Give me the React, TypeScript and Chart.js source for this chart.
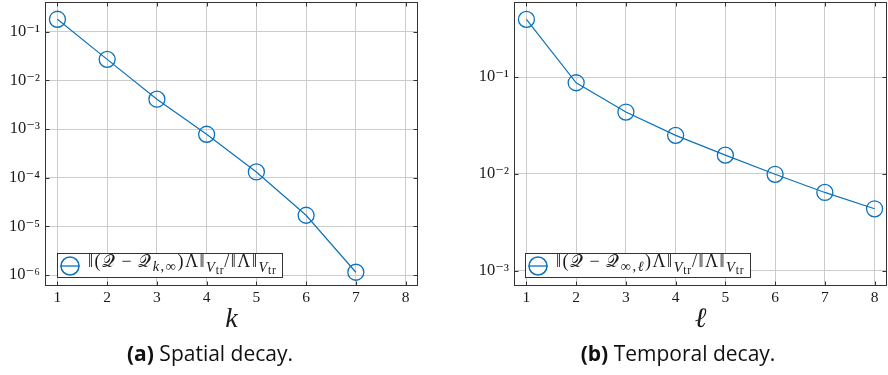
import React, { useEffect, useRef } from "react";
import { Chart, registerables } from "chart.js";

Chart.register(...registerables);

// ---- data ----
const spatialK = [1, 2, 3, 4, 5, 6, 7];
const spatialErr = [0.18, 0.027, 0.0041, 7.8e-4, 1.31e-4, 1.69e-5, 1.14e-6];
const temporalL = [1, 2, 3, 4, 5, 6, 7, 8];
const temporalErr = [0.394, 0.0873, 0.0435, 0.025, 0.0156, 0.0099, 0.00643, 0.00436];
const xTicks = [1, 2, 3, 4, 5, 6, 7, 8];
const spatialYTicks = [1e-6, 1e-5, 1e-4, 1e-3, 1e-2, 1e-1];
const temporalYTicks = [1e-3, 1e-2, 1e-1];

const BLUE = "#0b72bd";
const FRAME = "#333333";
const GRID = "#cccccc";
const TEXT = "#1a1a1a";
const SERIF = "'Liberation Serif', 'DejaVu Serif', serif";

const SUP: Record<string, string> = {
  "-": "⁻", "0": "⁰", "1": "¹", "2": "²", "3": "³", "4": "⁴",
  "5": "⁵", "6": "⁶", "7": "⁷", "8": "⁸", "9": "⁹",
};
const pow10Label = (v: number) => {
  const e = Math.round(Math.log10(v));
  return "10" + String(e).split("").map((c) => SUP[c] ?? c).join("");
};

const framePlugin = {
  id: "frame",
  afterDraw(chart: any) {
    const { ctx, chartArea: a, scales } = chart;
    ctx.save();
    ctx.strokeStyle = FRAME;
    ctx.lineWidth = 1;
    const L = Math.round(a.left) + 0.5, R = Math.round(a.right) - 0.5;
    const T = Math.round(a.top) + 0.5, B = Math.round(a.bottom) - 0.5;
    ctx.beginPath();
    scales.x.ticks.forEach((t: any) => {
      const px = Math.round(scales.x.getPixelForValue(t.value)) + 0.5;
      ctx.moveTo(px, B); ctx.lineTo(px, B - 4);
      ctx.moveTo(px, T); ctx.lineTo(px, T + 4);
    });
    scales.y.ticks.forEach((t: any) => {
      const py = Math.round(scales.y.getPixelForValue(t.value)) + 0.5;
      ctx.moveTo(L, py); ctx.lineTo(L + 4, py);
      ctx.moveTo(R, py); ctx.lineTo(R - 4, py);
    });
    ctx.stroke();
    ctx.strokeRect(L, T, R - L, B - T);
    ctx.restore();
  },
};

type PanelProps = {
  xs: number[];
  ys: number[];
  yTicks: number[];
  yMin: number;
  yMax: number;
  yAxisWidth: number;
  padRight: number;
  xTitle: string;
};

const W = 444;
const H = 340;
const PLOT_TOP = 2;
const PLOT_BOTTOM = 286;

function Panel({ xs, ys, yTicks, yMin, yMax, yAxisWidth, padRight, xTitle }: PanelProps) {
  const ref = useRef<HTMLCanvasElement | null>(null);
  useEffect(() => {
    if (!ref.current) return;
    const chart = new Chart(ref.current, {
      type: "line",
      data: {
        datasets: [
          {
            data: xs.map((x, i) => ({ x, y: ys[i] })),
            borderColor: BLUE,
            borderWidth: 1.2,
            pointRadius: 8,
            pointBorderWidth: 1.3,
            pointBorderColor: BLUE,
            pointBackgroundColor: "rgba(0,0,0,0)",
            fill: false,
            tension: 0,
            clip: false,
          },
        ],
      },
      options: {
        responsive: false,
        animation: false,
        devicePixelRatio: 1,
        layout: { autoPadding: false, padding: { top: PLOT_TOP, right: padRight, left: 0, bottom: 0 } },
        plugins: { legend: { display: false }, tooltip: { enabled: false } },
        scales: {
          x: {
            type: "linear",
            min: 0.75,
            max: 8.25,
            afterBuildTicks: (axis: any) => {
              axis.ticks = xTicks.map((v) => ({ value: v }));
            },
            afterFit: (axis: any) => {
              axis.height = H - PLOT_BOTTOM;
              axis.paddingLeft = 0;
              axis.paddingRight = 0;
            },
            grid: { color: GRID, lineWidth: 1, drawTicks: false },
            border: { display: false },
            ticks: {
              padding: 3,
              color: TEXT,
              font: { family: SERIF, size: 15.5 },
              callback: (v: any) => String(v),
            },
            title: {
              display: true,
              text: xTitle,
              color: TEXT,
              font: { family: SERIF, size: 28, style: "italic" },
              padding: { top: 0, bottom: 4 },
            },
          },
          y: {
            type: "logarithmic",
            min: yMin,
            max: yMax,
            afterBuildTicks: (axis: any) => {
              axis.ticks = yTicks.map((v) => ({ value: v }));
            },
            afterFit: (axis: any) => {
              axis.width = yAxisWidth;
              axis.paddingTop = 0;
              axis.paddingBottom = 0;
            },
            grid: { color: GRID, lineWidth: 1, drawTicks: false },
            border: { display: false },
            ticks: {
              padding: 5,
              color: TEXT,
              font: { family: SERIF, size: 16.5 },
              callback: (v: any) => pow10Label(Number(v)),
            },
          },
        },
      },
      plugins: [framePlugin],
    } as any);
    return () => chart.destroy();
  }, []);
  return <canvas ref={ref} width={W} height={H} style={{ display: "block", width: W, height: H }} />;
}

function LegendMarker() {
  return (
    <svg width="22" height="22" style={{ display: "block" }}>
      <circle cx="11" cy="11" r="9" fill="none" stroke={BLUE} strokeWidth="1.5" />
      <line x1="1.5" y1="11" x2="20.5" y2="11" stroke={BLUE} strokeWidth="1.3" />
    </svg>
  );
}

function Legend({ left, width, sub }: { left: number; width: number; sub: React.ReactNode }) {
  const vtr = (
    <sub style={{ fontSize: "0.8em", verticalAlign: "-0.35em", letterSpacing: "0.8px" }}>
      <i>V</i>
      <sub style={{ fontSize: "0.8em", verticalAlign: "-0.15em" }}>tr</sub>
    </sub>
  );
  return (
    <div
      style={{
        position: "absolute",
        left,
        top: 253,
        width,
        height: 25,
        boxSizing: "border-box",
        border: `1px solid ${FRAME}`,
        background: "#fff",
        display: "flex",
        alignItems: "center",
        paddingLeft: 1,
        fontFamily: SERIF,
        fontSize: 18,
        color: TEXT,
        whiteSpace: "nowrap",
        lineHeight: "18px",
        letterSpacing: "1.5px",
      }}
    >
      <LegendMarker />
      <span style={{ marginLeft: 7 }}>
        ‖(𝒬<span style={{ margin: "0 5px" }}>−</span>𝒬
        <sub style={{ fontSize: "0.8em", verticalAlign: "-0.3em" }}>{sub}</sub>
        )Λ‖{vtr}/‖Λ‖{vtr}
      </span>
    </div>
  );
}

const captionStyle: React.CSSProperties = {
  position: "absolute",
  top: 340,
  fontFamily: "'Open Sans', sans-serif",
  fontSize: 21,
  color: "#111",
  transform: "translateX(-50%)",
  whiteSpace: "nowrap",
  lineHeight: "26px",
};

export default function App() {
  return (
    <div style={{ position: "absolute", left: 0, top: 0, width: 888, height: 375, background: "#fff", overflow: "hidden" }}>
      <div style={{ position: "absolute", left: 0, top: 0 }}>
        <Panel
          xs={spatialK}
          ys={spatialErr}
          yTicks={spatialYTicks}
          yMin={Math.pow(10, -6.226)}
          yMax={Math.pow(10, -0.39)}
          yAxisWidth={45}
          padRight={26}
          xTitle="k"
        />
      </div>
      <div style={{ position: "absolute", left: 444, top: 0 }}>
        <Panel
          xs={temporalL}
          ys={temporalErr}
          yTicks={temporalYTicks}
          yMin={Math.pow(10, -3.158)}
          yMax={Math.pow(10, -0.225)}
          yAxisWidth={70}
          padRight={1}
          xTitle="ℓ"
        />
      </div>
      <Legend left={57} width={226} sub={<><i>k</i>,∞</>} />
      <Legend left={525} width={226} sub={<>∞,<i>ℓ</i></>} />
      <div style={{ ...captionStyle, left: 210 }}>
        <b>(a)</b> Spatial decay.
      </div>
      <div style={{ ...captionStyle, left: 678 }}>
        <b>(b)</b> Temporal decay.
      </div>
    </div>
  );
}
